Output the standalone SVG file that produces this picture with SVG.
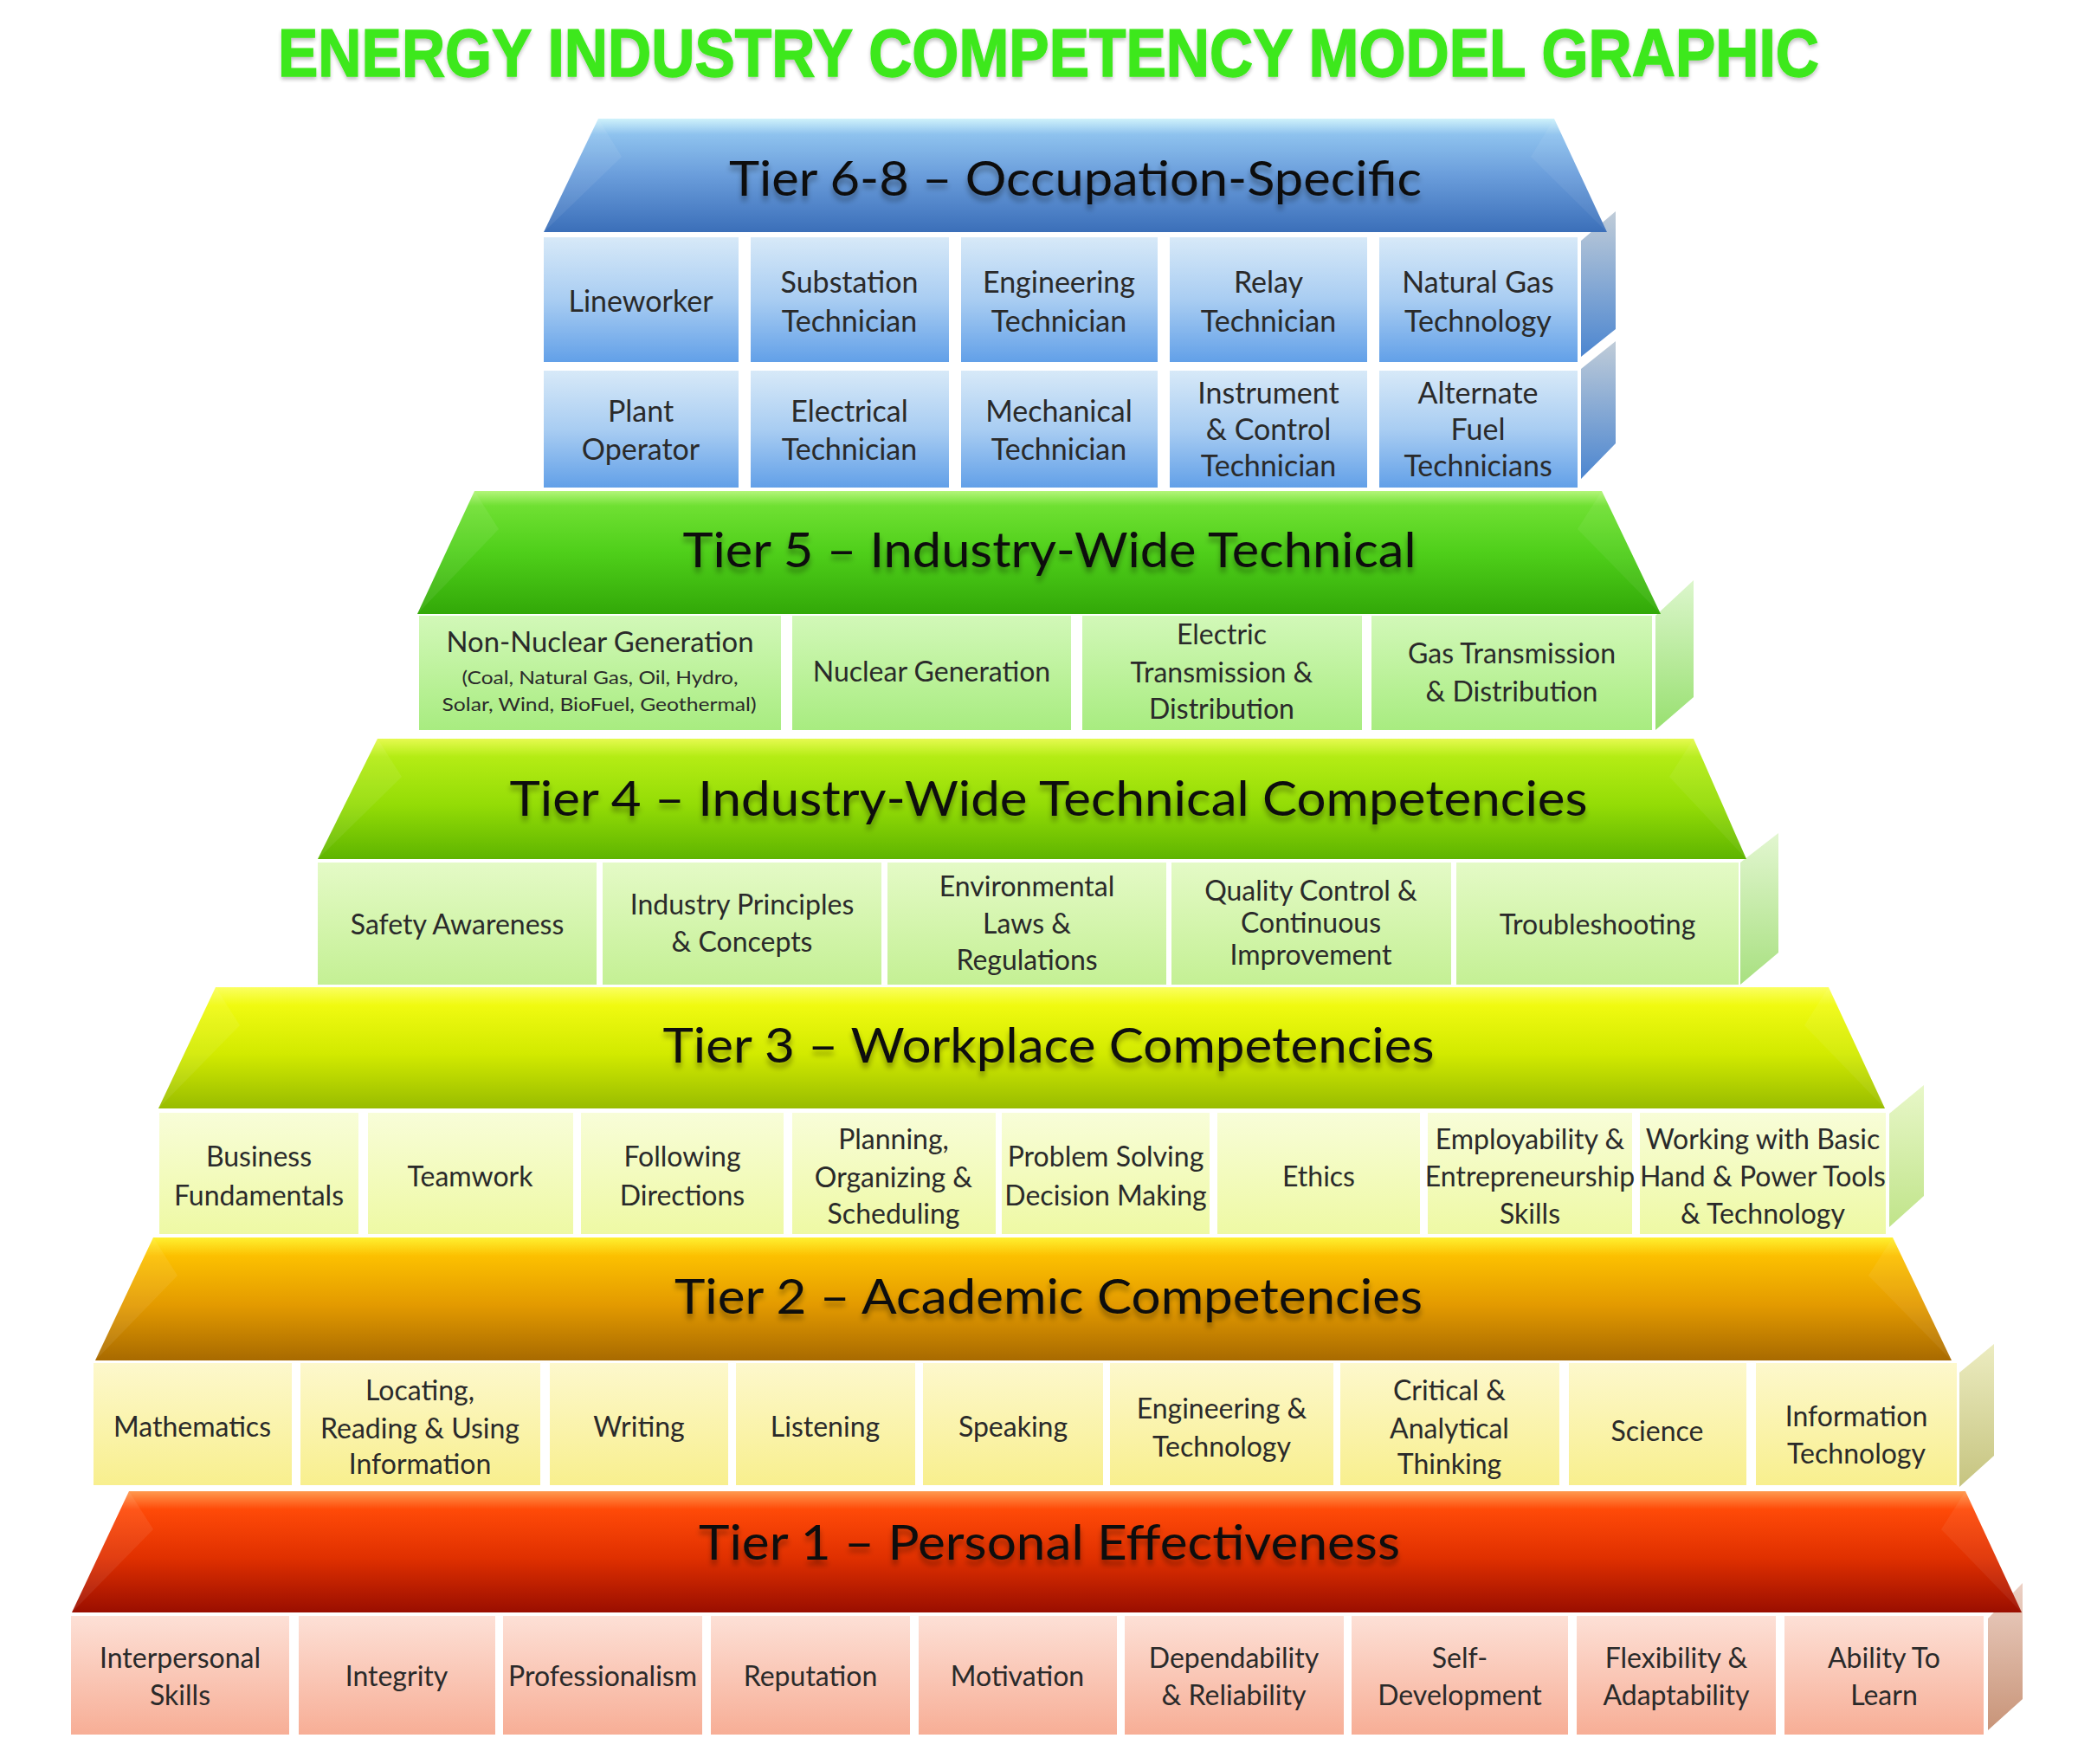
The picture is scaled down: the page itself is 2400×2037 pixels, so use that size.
<svg xmlns="http://www.w3.org/2000/svg" width="2400" height="2037" viewBox="0 0 2400 2037">
<defs>
<style>
.c{font-family:Lato,"Liberation Sans",sans-serif;font-size:32px;fill:#2a2a2a;text-anchor:middle}
.c6{font-size:34px}
.s{font-size:22px}
.h{font-family:Lato,"Liberation Sans",sans-serif;font-size:56px;fill:#111;text-anchor:middle}
.title{font-family:"Liberation Sans",Arial,sans-serif;font-weight:bold;font-size:78px;fill:#3ee81c;stroke:#3ee81c;stroke-width:1.5px;text-anchor:middle}
.bl{fill:#fff;opacity:.07}
.br{fill:#fff;opacity:.06}
</style>
<linearGradient id="hg6" x1="0" y1="0" x2="0" y2="1"><stop offset="0" stop-color="#cff2fb"/><stop offset=".14" stop-color="#8ec2ee"/><stop offset=".5" stop-color="#6a9ddb"/><stop offset="1" stop-color="#3b6fb9"/></linearGradient>
<linearGradient id="cg6" x1="0" y1="0" x2="0" y2="1"><stop offset="0" stop-color="#d7e9f8"/><stop offset=".5" stop-color="#a9cdf2"/><stop offset="1" stop-color="#62a0e8"/></linearGradient>
<linearGradient id="sg6" x1="0" y1="0" x2="0" y2="1"><stop offset="0" stop-color="#c0ccd8"/><stop offset="1" stop-color="#4c86d0"/></linearGradient>
<linearGradient id="hg5" x1="0" y1="0" x2="0" y2="1"><stop offset="0" stop-color="#b4f57a"/><stop offset=".12" stop-color="#6fe032"/><stop offset=".5" stop-color="#4fcf1a"/><stop offset="1" stop-color="#32a808"/></linearGradient>
<linearGradient id="cg5" x1="0" y1="0" x2="0" y2="1"><stop offset="0" stop-color="#d2f8b8"/><stop offset="1" stop-color="#a8ec80"/></linearGradient>
<linearGradient id="sg5" x1="0" y1="0" x2="0" y2="1"><stop offset="0" stop-color="#dcf6cc"/><stop offset="1" stop-color="#98e070"/></linearGradient>
<linearGradient id="hg4" x1="0" y1="0" x2="0" y2="1"><stop offset="0" stop-color="#e6fa50"/><stop offset=".15" stop-color="#b4ec14"/><stop offset=".55" stop-color="#94dc06"/><stop offset="1" stop-color="#5eb400"/></linearGradient>
<linearGradient id="cg4" x1="0" y1="0" x2="0" y2="1"><stop offset="0" stop-color="#e4fac6"/><stop offset="1" stop-color="#c4f094"/></linearGradient>
<linearGradient id="sg4" x1="0" y1="0" x2="0" y2="1"><stop offset="0" stop-color="#e2f6d0"/><stop offset="1" stop-color="#a8e080"/></linearGradient>
<linearGradient id="hg3" x1="0" y1="0" x2="0" y2="1"><stop offset="0" stop-color="#fbff60"/><stop offset=".15" stop-color="#f0fa10"/><stop offset=".55" stop-color="#d2ea00"/><stop offset="1" stop-color="#98bc00"/></linearGradient>
<linearGradient id="cg3" x1="0" y1="0" x2="0" y2="1"><stop offset="0" stop-color="#f8fdd8"/><stop offset="1" stop-color="#eef9a4"/></linearGradient>
<linearGradient id="sg3" x1="0" y1="0" x2="0" y2="1"><stop offset="0" stop-color="#e8f7c8"/><stop offset="1" stop-color="#c0e48a"/></linearGradient>
<linearGradient id="hg2" x1="0" y1="0" x2="0" y2="1"><stop offset="0" stop-color="#fff030"/><stop offset=".15" stop-color="#fcc000"/><stop offset=".55" stop-color="#e39a00"/><stop offset="1" stop-color="#a86a00"/></linearGradient>
<linearGradient id="cg2" x1="0" y1="0" x2="0" y2="1"><stop offset="0" stop-color="#fdf8cc"/><stop offset="1" stop-color="#f8ef8e"/></linearGradient>
<linearGradient id="sg2" x1="0" y1="0" x2="0" y2="1"><stop offset="0" stop-color="#ececc0"/><stop offset="1" stop-color="#c6c480"/></linearGradient>
<linearGradient id="hg1" x1="0" y1="0" x2="0" y2="1"><stop offset="0" stop-color="#ff9a50"/><stop offset=".15" stop-color="#ff4a08"/><stop offset=".55" stop-color="#e03000"/><stop offset="1" stop-color="#9a0e00"/></linearGradient>
<linearGradient id="cg1" x1="0" y1="0" x2="0" y2="1"><stop offset="0" stop-color="#fde0d6"/><stop offset="1" stop-color="#f7ae96"/></linearGradient>
<linearGradient id="sg1" x1="0" y1="0" x2="0" y2="1"><stop offset="0" stop-color="#ecd0c4"/><stop offset="1" stop-color="#c89478"/></linearGradient>
<filter id="ts" x="-5%" y="-30%" width="110%" height="180%"><feGaussianBlur in="SourceAlpha" stdDeviation="3"/><feOffset dy="6" result="b"/><feComponentTransfer><feFuncA type="linear" slope=".35"/></feComponentTransfer><feMerge><feMergeNode/><feMergeNode in="SourceGraphic"/></feMerge></filter>
<filter id="glow" x="-2%" y="-20%" width="104%" height="140%"><feGaussianBlur in="SourceAlpha" stdDeviation="2"/><feOffset dy="3"/><feComponentTransfer><feFuncA type="linear" slope=".25"/></feComponentTransfer><feMerge><feMergeNode/><feMergeNode in="SourceGraphic"/></feMerge></filter>
</defs>

<g id="title"><text class="title" x="1211" y="88" textLength="1780" lengthAdjust="spacingAndGlyphs" filter="url(#glow)">ENERGY INDUSTRY COMPETENCY MODEL GRAPHIC</text></g>

<g id="connectors"></g>

<!-- Tier 6-8 -->
<g id="tier6-8">
<g id="t68-side"><polygon points="1826,278 1866,244 1866,380 1826,412" fill="url(#sg6)"/><polygon points="1826,426 1866,394 1866,512 1826,553" fill="url(#sg6)"/></g>
<g id="t68-header"><polygon points="691,137 1795,137 1856,268 628,268" fill="url(#hg6)"/><polygon class="bl" points="691,137 718,181 628,268"/><polygon class="br" points="1795,137 1768,181 1856,268"/>
<text class="h" x="1242" y="226" textLength="800" lengthAdjust="spacingAndGlyphs" filter="url(#ts)">Tier 6-8 – Occupation-Specific</text></g>
<g id="t68-lineworker"><rect x="628" y="274" width="225" height="144" fill="url(#cg6)"/><text class="c c6" x="740" y="360">Lineworker</text></g>
<g id="t68-substation"><rect x="867" y="274" width="229" height="144" fill="url(#cg6)"/><text class="c c6" x="981" y="338">Substation<tspan x="981" dy="45">Technician</tspan></text></g>
<g id="t68-engineering"><rect x="1110" y="274" width="227" height="144" fill="url(#cg6)"/><text class="c c6" x="1223" y="338">Engineering<tspan x="1223" dy="45">Technician</tspan></text></g>
<g id="t68-relay"><rect x="1351" y="274" width="228" height="144" fill="url(#cg6)"/><text class="c c6" x="1465" y="338">Relay<tspan x="1465" dy="45">Technician</tspan></text></g>
<g id="t68-naturalgas"><rect x="1593" y="274" width="229" height="144" fill="url(#cg6)"/><text class="c c6" x="1707" y="338">Natural Gas<tspan x="1707" dy="45">Technology</tspan></text></g>
<g id="t68-plant"><rect x="628" y="428" width="225" height="135" fill="url(#cg6)"/><text class="c c6" x="740" y="487">Plant<tspan x="740" dy="44">Operator</tspan></text></g>
<g id="t68-electrical"><rect x="867" y="428" width="229" height="135" fill="url(#cg6)"/><text class="c c6" x="981" y="487">Electrical<tspan x="981" dy="44">Technician</tspan></text></g>
<g id="t68-mechanical"><rect x="1110" y="428" width="227" height="135" fill="url(#cg6)"/><text class="c c6" x="1223" y="487">Mechanical<tspan x="1223" dy="44">Technician</tspan></text></g>
<g id="t68-instrument"><rect x="1351" y="428" width="228" height="135" fill="url(#cg6)"/><text class="c c6" x="1465" y="466">Instrument<tspan x="1465" dy="42">&amp; Control</tspan><tspan x="1465" dy="42">Technician</tspan></text></g>
<g id="t68-altfuel"><rect x="1593" y="428" width="229" height="135" fill="url(#cg6)"/><text class="c c6" x="1707" y="466">Alternate<tspan x="1707" dy="42">Fuel</tspan><tspan x="1707" dy="42">Technicians</tspan></text></g>
</g>

<!-- Tier 5 -->
<g id="tier5">
<g id="t5-side"><polygon points="1912,711 1956,670 1956,805 1912,843" fill="url(#sg5)"/></g>
<g id="t5-header"><polygon points="548,567 1850,567 1918,709 482,709" fill="url(#hg5)"/><polygon class="bl" points="548,567 576,611 482,709"/><polygon class="br" points="1850,567 1822,611 1918,709"/>
<text class="h" x="1212" y="655" textLength="847" lengthAdjust="spacingAndGlyphs" filter="url(#ts)">Tier 5 – Industry-Wide Technical</text></g>
<g id="t5-nonnuclear"><rect x="484" y="711" width="418" height="132" fill="url(#cg5)"/><text class="c" x="693" y="753" textLength="355" lengthAdjust="spacingAndGlyphs">Non-Nuclear Generation</text><text class="c s" x="693" y="790" textLength="319" lengthAdjust="spacingAndGlyphs">(Coal, Natural Gas, Oil, Hydro,</text><text class="c s" x="692" y="821" textLength="363" lengthAdjust="spacingAndGlyphs">Solar, Wind, BioFuel, Geothermal)</text></g>
<g id="t5-nuclear"><rect x="915" y="711" width="322" height="132" fill="url(#cg5)"/><text class="c" x="1076" y="787">Nuclear Generation</text></g>
<g id="t5-electric"><rect x="1250" y="711" width="323" height="132" fill="url(#cg5)"/><text class="c" x="1411" y="744">Electric<tspan x="1411" dy="44">Transmission &amp;</tspan><tspan x="1411" dy="42">Distribution</tspan></text></g>
<g id="t5-gas"><rect x="1584" y="711" width="324" height="132" fill="url(#cg5)"/><text class="c" x="1746" y="766">Gas Transmission<tspan x="1746" dy="44">&amp; Distribution</tspan></text></g>
</g>

<!-- Tier 4 -->
<g id="tier4">
<g id="t4-side"><polygon points="2010,996 2054,962 2054,1100 2010,1137" fill="url(#sg4)"/></g>
<g id="t4-header"><polygon points="436,853 1956,853 2017,992 367,992" fill="url(#hg4)"/><polygon class="bl" points="436,853 464,897 367,992"/><polygon class="br" points="1956,853 1928,897 2017,992"/>
<text class="h" x="1211" y="942" textLength="1245" lengthAdjust="spacingAndGlyphs" filter="url(#ts)">Tier 4 – Industry-Wide Technical Competencies</text></g>
<g id="t4-safety"><rect x="367" y="996" width="322" height="141" fill="url(#cg4)"/><text class="c" x="528" y="1079">Safety Awareness</text></g>
<g id="t4-principles"><rect x="696" y="996" width="322" height="141" fill="url(#cg4)"/><text class="c" x="857" y="1056">Industry Principles<tspan x="857" dy="43">&amp; Concepts</tspan></text></g>
<g id="t4-environmental"><rect x="1025" y="996" width="322" height="141" fill="url(#cg4)"/><text class="c" x="1186" y="1035">Environmental<tspan x="1186" dy="43">Laws &amp;</tspan><tspan x="1186" dy="42">Regulations</tspan></text></g>
<g id="t4-quality"><rect x="1353" y="996" width="323" height="141" fill="url(#cg4)"/><text class="c" x="1514" y="1040">Quality Control &amp;<tspan x="1514" dy="37">Continuous</tspan><tspan x="1514" dy="37">Improvement</tspan></text></g>
<g id="t4-troubleshooting"><rect x="1682" y="996" width="326" height="141" fill="url(#cg4)"/><text class="c" x="1845" y="1079">Troubleshooting</text></g>
</g>

<!-- Tier 3 -->
<g id="tier3">
<g id="t3-side"><polygon points="2182,1286 2222,1253 2222,1381 2182,1417" fill="url(#sg3)"/></g>
<g id="t3-header"><polygon points="249,1140 2112,1140 2177,1280 183,1280" fill="url(#hg3)"/><polygon class="bl" points="249,1140 277,1184 183,1280"/><polygon class="br" points="2112,1140 2084,1184 2177,1280"/>
<text class="h" x="1211" y="1227" textLength="891" lengthAdjust="spacingAndGlyphs" filter="url(#ts)">Tier 3 – Workplace Competencies</text></g>
<g id="t3-business"><rect x="184" y="1285" width="230" height="140" fill="url(#cg3)"/><text class="c" x="299" y="1347">Business<tspan x="299" dy="45">Fundamentals</tspan></text></g>
<g id="t3-teamwork"><rect x="425" y="1285" width="237" height="140" fill="url(#cg3)"/><text class="c" x="543" y="1370">Teamwork</text></g>
<g id="t3-following"><rect x="671" y="1285" width="234" height="140" fill="url(#cg3)"/><text class="c" x="788" y="1347">Following<tspan x="788" dy="45">Directions</tspan></text></g>
<g id="t3-planning"><rect x="915" y="1285" width="235" height="140" fill="url(#cg3)"/><text class="c" x="1032" y="1327">Planning,<tspan x="1032" dy="44">Organizing &amp;</tspan><tspan x="1032" dy="42">Scheduling</tspan></text></g>
<g id="t3-problem"><rect x="1157" y="1285" width="240" height="140" fill="url(#cg3)"/><text class="c" x="1277" y="1347">Problem Solving<tspan x="1277" dy="45">Decision Making</tspan></text></g>
<g id="t3-ethics"><rect x="1406" y="1285" width="234" height="140" fill="url(#cg3)"/><text class="c" x="1523" y="1370">Ethics</text></g>
<g id="t3-employability"><rect x="1649" y="1285" width="236" height="140" fill="url(#cg3)"/><text class="c" x="1767" y="1327">Employability &amp;<tspan x="1767" dy="43">Entrepreneurship</tspan><tspan x="1767" dy="43">Skills</tspan></text></g>
<g id="t3-tools"><rect x="1894" y="1285" width="284" height="140" fill="url(#cg3)"/><text class="c" x="2036" y="1327">Working with Basic<tspan x="2036" dy="43">Hand &amp; Power Tools</tspan><tspan x="2036" dy="43">&amp; Technology</tspan></text></g>
</g>

<!-- Tier 2 -->
<g id="tier2">
<g id="t2-side"><polygon points="2263,1585 2303,1552 2303,1681 2263,1717" fill="url(#sg2)"/></g>
<g id="t2-header"><polygon points="177,1429 2186,1429 2254,1571 110,1571" fill="url(#hg2)"/><polygon class="bl" points="177,1429 205,1473 110,1571"/><polygon class="br" points="2186,1429 2158,1473 2254,1571"/>
<text class="h" x="1211" y="1517" textLength="864" lengthAdjust="spacingAndGlyphs" filter="url(#ts)">Tier 2 – Academic Competencies</text></g>
<g id="t2-math"><rect x="108" y="1574" width="229" height="141" fill="url(#cg2)"/><text class="c" x="222" y="1659">Mathematics</text></g>
<g id="t2-locating"><rect x="347" y="1574" width="277" height="141" fill="url(#cg2)"/><text class="c" x="485" y="1617">Locating,<tspan x="485" dy="44">Reading &amp; Using</tspan><tspan x="485" dy="41">Information</tspan></text></g>
<g id="t2-writing"><rect x="635" y="1574" width="206" height="141" fill="url(#cg2)"/><text class="c" x="738" y="1659">Writing</text></g>
<g id="t2-listening"><rect x="850" y="1574" width="207" height="141" fill="url(#cg2)"/><text class="c" x="953" y="1659">Listening</text></g>
<g id="t2-speaking"><rect x="1066" y="1574" width="208" height="141" fill="url(#cg2)"/><text class="c" x="1170" y="1659">Speaking</text></g>
<g id="t2-engineering"><rect x="1282" y="1574" width="258" height="141" fill="url(#cg2)"/><text class="c" x="1411" y="1638">Engineering &amp;<tspan x="1411" dy="44">Technology</tspan></text></g>
<g id="t2-critical"><rect x="1548" y="1574" width="253" height="141" fill="url(#cg2)"/><text class="c" x="1674" y="1617">Critical &amp;<tspan x="1674" dy="44">Analytical</tspan><tspan x="1674" dy="41">Thinking</tspan></text></g>
<g id="t2-science"><rect x="1812" y="1574" width="205" height="141" fill="url(#cg2)"/><text class="c" x="1914" y="1664">Science</text></g>
<g id="t2-it"><rect x="2028" y="1574" width="232" height="141" fill="url(#cg2)"/><text class="c" x="2144" y="1647">Information<tspan x="2144" dy="43">Technology</tspan></text></g>
</g>

<!-- Tier 1 -->
<g id="tier1">
<g id="t1-side"><polygon points="2296,1869 2336,1828 2336,1962 2296,1998" fill="url(#sg1)"/></g>
<g id="t1-header"><polygon points="149,1722 2270,1722 2335,1862 83,1862" fill="url(#hg1)"/><polygon class="bl" points="149,1722 177,1766 83,1862"/><polygon class="br" points="2270,1722 2242,1766 2335,1862"/>
<text class="h" x="1212" y="1801" textLength="810" lengthAdjust="spacingAndGlyphs" filter="url(#ts)">Tier 1 – Personal Effectiveness</text></g>
<g id="t1-interpersonal"><rect x="82" y="1866" width="252" height="137" fill="url(#cg1)"/><text class="c" x="208" y="1926">Interpersonal<tspan x="208" dy="43">Skills</tspan></text></g>
<g id="t1-integrity"><rect x="345" y="1866" width="227" height="137" fill="url(#cg1)"/><text class="c" x="458" y="1947">Integrity</text></g>
<g id="t1-professionalism"><rect x="581" y="1866" width="230" height="137" fill="url(#cg1)"/><text class="c" x="696" y="1947">Professionalism</text></g>
<g id="t1-reputation"><rect x="821" y="1866" width="230" height="137" fill="url(#cg1)"/><text class="c" x="936" y="1947">Reputation</text></g>
<g id="t1-motivation"><rect x="1061" y="1866" width="229" height="137" fill="url(#cg1)"/><text class="c" x="1175" y="1947">Motivation</text></g>
<g id="t1-dependability"><rect x="1299" y="1866" width="253" height="137" fill="url(#cg1)"/><text class="c" x="1425" y="1926">Dependability<tspan x="1425" dy="43">&amp; Reliability</tspan></text></g>
<g id="t1-selfdev"><rect x="1561" y="1866" width="250" height="137" fill="url(#cg1)"/><text class="c" x="1686" y="1926">Self-<tspan x="1686" dy="43">Development</tspan></text></g>
<g id="t1-flexibility"><rect x="1821" y="1866" width="230" height="137" fill="url(#cg1)"/><text class="c" x="1936" y="1926">Flexibility &amp;<tspan x="1936" dy="43">Adaptability</tspan></text></g>
<g id="t1-ability"><rect x="2061" y="1866" width="230" height="137" fill="url(#cg1)"/><text class="c" x="2176" y="1926">Ability To<tspan x="2176" dy="43">Learn</tspan></text></g>
</g>
</svg>
